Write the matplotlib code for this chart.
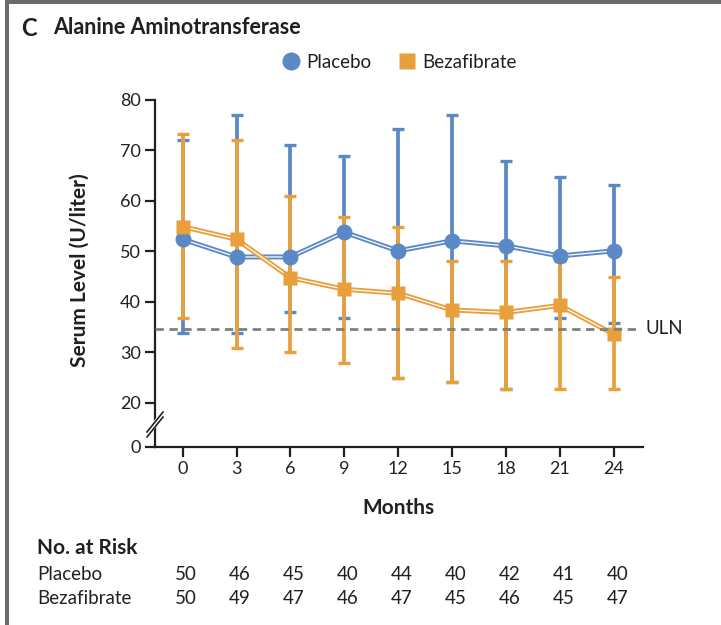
import numpy as np
import matplotlib
matplotlib.use('Agg')
from matplotlib import pyplot as plt
from matplotlib.lines import Line2D
from matplotlib.patches import Rectangle
from matplotlib.transforms import blended_transform_factory

plt.rcParams['font.family'] = ['Lato', 'DejaVu Sans']

## Data
#
months = [0, 3, 6, 9, 12, 15, 18, 21, 24]
placebo_mean = [52.4, 48.9, 48.9, 53.8, 50.1, 52.1, 51.1, 49.1, 50.1]
placebo_upper = [72.1, 77.1, 71.1, 68.9, 74.2, 77.1, 68.0, 64.8, 63.2]
placebo_lower = [33.8, 33.8, 38.0, 36.9, 25.0, 24.2, 22.8, 36.9, 35.9]
beza_mean = [54.9, 52.4, 44.8, 42.5, 41.7, 38.4, 37.9, 39.3, 33.6]
beza_upper = [73.3, 72.1, 61.0, 56.9, 54.9, 48.0, 48.0, 48.0, 44.9]
beza_lower = [36.9, 30.8, 30.1, 27.9, 25.0, 24.2, 22.8, 22.8, 22.8]
risk_placebo = [50, 46, 45, 40, 44, 40, 42, 41, 40]
risk_beza = [50, 49, 47, 46, 47, 45, 46, 45, 47]
uln = 34.7

blue = '#5b89c6'
orange = '#e9a03c'
ink = '#231f20'

W, H = 721, 625
def fx(px):
    return px / W
def fy(py):
    return 1 - py / H

fig = plt.figure(figsize=(W / 100, H / 100), dpi=100)

# grey frame on top and left
fig.add_artist(Rectangle((fx(5), 0), fx(4), 1, transform=fig.transFigure,
                         facecolor='#6b6b6b', edgecolor='none'))
fig.add_artist(Rectangle((fx(5), fy(4)), 1, fy(0) - fy(4), transform=fig.transFigure,
                         facecolor='#6b6b6b', edgecolor='none'))

ax = fig.add_axes([fx(155), fy(446.7), (643 - 155) / W, (446.7 - 100) / H])

# broken axis: 0 is drawn a short way under 20
y_zero = 11.3
ax.set_ylim(y_zero, 80)
ax.set_xlim(-1.54, 25.64)


def series(mean, lower, upper, color, z, marker, ms):
    mean = np.array(mean)
    err = [mean - np.array(lower), np.array(upper) - mean]
    ax.errorbar(months, mean, yerr=err, fmt='none', ecolor=color,
                elinewidth=2.7, capsize=4.6, capthick=2.4, zorder=z, clip_on=False)
    ax.plot(months, mean, color=color, lw=3.6, zorder=z + 2)
    ax.plot(months, mean, color='white', lw=0.9, zorder=z + 2.1)
    ax.plot(months, mean, ls='none', marker=marker, ms=ms, color=color,
            mec='none', zorder=z + 4, clip_on=False)

series(placebo_mean, placebo_lower, placebo_upper, blue, 2, 'o', 11.5)
series(beza_mean, beza_lower, beza_upper, orange, 3, 's', 10)

# upper limit of normal
ax.plot([-1.54, 25.5], [uln, uln], color='#808080', lw=2, ls=(0, (3, 2)),
        zorder=8, clip_on=False)
ax.text(25.8, uln, 'ULN', fontsize=13.5, color=ink, va='center', ha='left')

for side in ['top', 'right']:
    ax.spines[side].set_visible(False)
for side in ['left', 'bottom']:
    ax.spines[side].set_color(ink)
    ax.spines[side].set_linewidth(1.6)

ax.set_yticks([y_zero, 20, 30, 40, 50, 60, 70, 80])
ax.set_yticklabels(['0', '20', '30', '40', '50', '60', '70', '80'])
ax.set_xticks(months)
ax.tick_params(direction='out', length=7, width=1.6, color=ink,
               labelsize=13, labelcolor=ink, pad=3)

ax.set_ylabel('Serum Level (U/liter)', fontsize=15, fontweight='bold', color=ink)
ax.yaxis.set_label_coords(-0.134, 0.51)
ax.set_xlabel('Months', fontsize=15, fontweight='bold', color=ink)
ax.xaxis.set_label_coords(0.498, -0.148)

# axis break marks
fig.add_artist(Line2D([fx(147), fx(163)], [fy(434), fy(414)], color='white', lw=4, zorder=10))
fig.add_artist(Line2D([fx(147), fx(163)], [fy(432), fy(412)], color=ink, lw=1.2, zorder=11))
fig.add_artist(Line2D([fx(147), fx(163)], [fy(437), fy(417)], color=ink, lw=1.2, zorder=11))

# legend
handles = [Line2D([], [], ls='none', marker='o', ms=13, color=blue, mec='none'),
           Line2D([], [], ls='none', marker='s', ms=12, color=orange, mec='none')]
fig.legend(handles, ['Placebo', 'Bezafibrate'], loc='center', ncol=2,
           bbox_to_anchor=(fx(398), fy(62)), frameon=False, fontsize=13.5,
           handletextpad=0.2, columnspacing=1.3, handlelength=1.2,
           labelcolor=ink)

# title
fig.text(fx(21), fy(28), 'C', fontsize=17, fontweight='bold', color=ink, va='center')
fig.text(fx(53), fy(28), 'Alanine Aminotransferase', fontsize=15.5, fontweight='bold',
         color=ink, va='center')

# number at risk
tr = blended_transform_factory(ax.transData, fig.transFigure)
fig.text(fx(37), fy(548), 'No. at Risk', fontsize=15, fontweight='bold', color=ink, va='center')
fig.text(fx(37), fy(574), 'Placebo', fontsize=13.5, color=ink, va='center')
fig.text(fx(37), fy(599), 'Bezafibrate', fontsize=13.5, color=ink, va='center')
for m, a, b in zip(months, risk_placebo, risk_beza):
    ax.text(m + 0.2, fy(574), str(a), transform=tr, fontsize=13.5, color=ink,
            ha='center', va='center')
    ax.text(m + 0.2, fy(599), str(b), transform=tr, fontsize=13.5, color=ink,
            ha='center', va='center')

fig.savefig('out.png', dpi=100)
